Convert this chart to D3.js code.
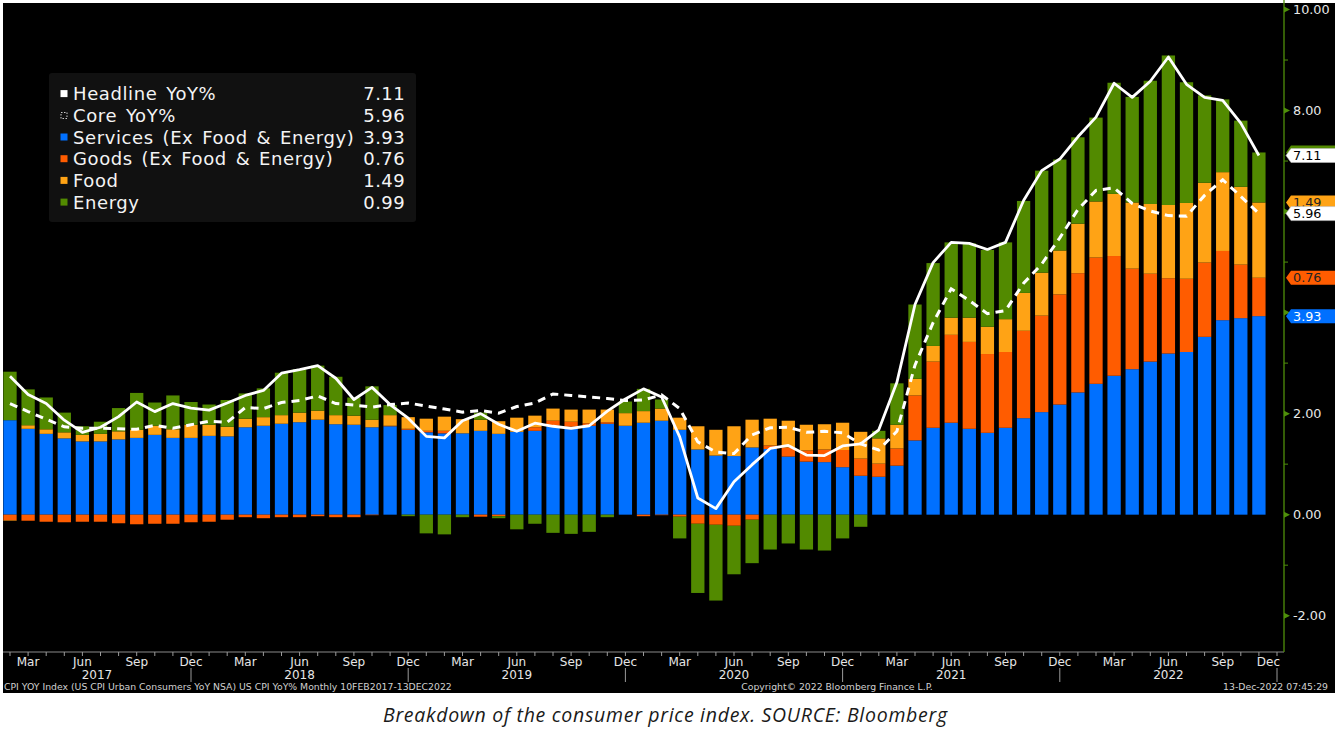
<!DOCTYPE html>
<html><head><meta charset="utf-8">
<script src="https://cdn.jsdelivr.net/npm/d3@7"></script>
<style>body{margin:0;background:#fff;overflow:hidden} svg{display:block}</style>
</head><body><svg id="c" width="1335" height="735"></svg>
<script>
// ---------- DATA ----------
const months = [
 "2017-02","2017-03","2017-04","2017-05","2017-06","2017-07","2017-08","2017-09","2017-10","2017-11","2017-12",
 "2018-01","2018-02","2018-03","2018-04","2018-05","2018-06","2018-07","2018-08","2018-09","2018-10","2018-11","2018-12",
 "2019-01","2019-02","2019-03","2019-04","2019-05","2019-06","2019-07","2019-08","2019-09","2019-10","2019-11","2019-12",
 "2020-01","2020-02","2020-03","2020-04","2020-05","2020-06","2020-07","2020-08","2020-09","2020-10","2020-11","2020-12",
 "2021-01","2021-02","2021-03","2021-04","2021-05","2021-06","2021-07","2021-08","2021-09","2021-10","2021-11","2021-12",
 "2022-01","2022-02","2022-03","2022-04","2022-05","2022-06","2022-07","2022-08","2022-09","2022-10","2022-11"
];
const services = [
 1.87,1.70,1.60,1.51,1.45,1.45,1.49,1.52,1.58,1.52,1.52,
 1.56,1.55,1.73,1.76,1.80,1.83,1.88,1.79,1.78,1.73,1.75,1.68,
 1.63,1.61,1.61,1.66,1.60,1.64,1.66,1.76,1.74,1.76,1.80,1.76,
 1.82,1.86,1.68,1.29,1.17,1.16,1.33,1.30,1.15,1.05,1.04,0.94,
 0.77,0.75,0.97,1.47,1.72,1.82,1.70,1.62,1.72,1.91,2.03,2.18,
 2.42,2.59,2.75,2.88,3.03,3.19,3.22,3.52,3.85,3.89,3.93
];
const goods = [
 -0.11,-0.12,-0.14,-0.15,-0.14,-0.14,-0.17,-0.19,-0.18,-0.18,-0.15,
 -0.14,-0.10,-0.05,-0.07,-0.05,-0.05,-0.03,-0.05,-0.05,-0.01,0.01,0.02,
 0.03,0.05,0.00,-0.04,-0.03,0.00,0.07,0.10,0.10,0.05,0.03,0.00,
 -0.03,-0.01,-0.04,-0.18,-0.20,-0.22,-0.10,0.07,0.18,0.22,0.25,0.34,
 0.34,0.26,0.34,0.89,1.31,1.74,1.72,1.56,1.50,1.73,1.91,2.18,
 2.36,2.50,2.37,1.99,1.74,1.49,1.45,1.47,1.37,1.06,0.76
];
const food = [
 -0.01,0.07,0.09,0.12,0.13,0.15,0.16,0.16,0.18,0.17,0.26,
 0.22,0.19,0.17,0.17,0.17,0.19,0.18,0.18,0.18,0.15,0.21,0.23,
 0.24,0.28,0.28,0.22,0.25,0.28,0.23,0.24,0.24,0.27,0.25,0.25,
 0.23,0.24,0.24,0.46,0.51,0.59,0.55,0.53,0.53,0.51,0.50,0.54,
 0.53,0.50,0.47,0.33,0.31,0.34,0.48,0.54,0.65,0.75,0.85,0.87,
 0.98,1.11,1.23,1.31,1.38,1.45,1.50,1.58,1.56,1.54,1.49
];
const energy = [
 0.96,0.71,0.63,0.39,0.17,0.24,0.46,0.73,0.46,0.67,0.45,
 0.40,0.53,0.50,0.57,0.84,0.86,0.89,0.76,0.36,0.66,0.20,-0.03,
 -0.37,-0.39,-0.05,0.14,-0.04,-0.29,-0.18,-0.36,-0.38,-0.34,-0.05,0.23,
 0.44,0.18,-0.43,-1.37,-1.50,-0.96,-0.86,-0.69,-0.57,-0.69,-0.71,-0.47,
 -0.24,0.15,0.82,1.47,1.64,1.49,1.47,1.52,1.52,1.82,2.02,1.80,
 1.71,1.66,2.20,2.09,2.44,2.96,2.39,1.73,1.44,1.31,0.99
];
const headline = [
 2.74,2.38,2.20,1.87,1.63,1.73,1.94,2.23,2.04,2.20,2.11,
 2.07,2.21,2.36,2.46,2.80,2.87,2.95,2.70,2.28,2.52,2.18,1.91,
 1.55,1.52,1.86,2.00,1.79,1.65,1.81,1.75,1.71,1.76,2.05,2.29,
 2.49,2.33,1.54,0.33,0.12,0.65,0.99,1.31,1.37,1.18,1.17,1.36,
 1.40,1.68,2.62,4.16,4.99,5.39,5.37,5.25,5.39,6.22,6.81,7.04,
 7.48,7.87,8.54,8.26,8.58,9.06,8.52,8.26,8.20,7.75,7.11
];
const core = [
 2.20,2.04,1.89,1.74,1.71,1.71,1.70,1.69,1.77,1.71,1.78,
 1.85,1.83,2.12,2.10,2.22,2.26,2.35,2.20,2.17,2.13,2.18,2.21,
 2.15,2.09,2.03,2.06,2.01,2.14,2.21,2.39,2.36,2.33,2.30,2.26,
 2.27,2.37,2.10,1.44,1.24,1.21,1.58,1.72,1.73,1.63,1.65,1.62,
 1.40,1.28,1.65,2.96,3.80,4.47,4.24,3.98,4.04,4.58,4.96,5.48,
 6.04,6.42,6.47,6.16,6.01,5.92,5.91,6.32,6.63,6.30,5.96
];
const seriesNames = ["Services (Ex Food & Energy)","Goods (Ex Food & Energy)","Food","Energy"];
const seriesKeys = ["services","goods","food","energy"];
const seriesColors = ["#0070ff","#ff5c00","#ffa315","#528a00"];
const monthTickLabels = {3:"Mar",6:"Jun",9:"Sep",12:"Dec"};
const yearLabels = ["2017","2018","2019","2020","2021","2022"];
const yTickValues = [-2,-1,0,1,2,3,4,5,6,7,8,9,10];
const footerLeft = "CPI YOY Index (US CPI Urban Consumers YoY NSA) US CPI YoY%  Monthly 10FEB2017-13DEC2022";
const footerMid = "Copyright\u00A9 2022 Bloomberg Finance L.P.";
const footerRight = "13-Dec-2022 07:45:29";
const caption = "Breakdown of the consumer price index. SOURCE: Bloomberg";

// ---------- LAYOUT ----------
const svg = d3.select("#c");
const W = 1335, H = 735;
const plotL = 3, plotR = 1284, plotT = 3, plotB = 652;
const step = 18.1;
const font = "'DejaVu Sans', Verdana, sans-serif";

svg.append("rect").attr("x",0).attr("y",0).attr("width",W).attr("height",H).attr("fill","#fff");
svg.append("rect").attr("x",3).attr("y",3).attr("width",W-3).attr("height",690).attr("fill","#000");

const x = d3.scaleBand().domain(months)
  .range([10 - step/2, 10 - step/2 + step*months.length])
  .paddingInner(0.265).paddingOuter(0.1325);
const xi = d3.scaleLinear().domain([0, months.length-1]).range([10, 10 + step*(months.length-1)]);
const y = d3.scaleLinear().domain([-2, 10]).range([615.7, 9.5]);

const rows = months.map((m,i)=>({m, services:services[i], goods:goods[i], food:food[i], energy:energy[i]}));
const stack = d3.stack().keys(seriesKeys).offset(d3.stackOffsetDiverging);
const stacked = stack(rows);

svg.append("clipPath").attr("id","pc").append("rect")
  .attr("x",plotL).attr("y",plotT).attr("width",plotR-plotL).attr("height",plotB-plotT);
const g = svg.append("g").attr("clip-path","url(#pc)");

// bars
stacked.forEach((s,k)=>{
  g.append("g").selectAll("rect").data(s).join("rect")
    .attr("x", d=>x(d.data.m))
    .attr("width", x.bandwidth())
    .attr("y", d=>y(Math.max(d[0],d[1])))
    .attr("height", d=>Math.abs(y(d[0])-y(d[1])))
    .attr("fill", seriesColors[k]);
});

// lines
const line = d3.line().x((d,i)=>xi(i)).y(d=>y(d));
g.append("path").datum(core).attr("d",line).attr("fill","none")
  .attr("stroke","#fff").attr("stroke-width",3).attr("stroke-dasharray","8,6");
g.append("path").datum(headline).attr("d",line).attr("fill","none")
  .attr("stroke","#fff").attr("stroke-width",2.8).attr("stroke-linejoin","round");

// x axis
svg.append("line").attr("x1",plotL).attr("x2",plotR).attr("y1",plotB).attr("y2",plotB)
  .attr("stroke","#8a8a8a").attr("stroke-width",1);
const axisMonths = months.concat(["2022-12"]);
axisMonths.forEach((m,i)=>{
  const px = xi(i);
  svg.append("line").attr("x1",px).attr("x2",px).attr("y1",plotB).attr("y2",plotB+4)
    .attr("stroke","#9a9a9a").attr("stroke-width",1);
  const mo = +m.slice(5,7);
  if (monthTickLabels[mo]) {
    const t = svg.append("text").attr("y",666).attr("fill","#e6e6e6")
      .attr("font-family",font).attr("font-size",12).text(monthTickLabels[mo]);
    if (px + 11 > plotR - 2) t.attr("x",plotR - 4).attr("text-anchor","end");
    else t.attr("x",px).attr("text-anchor","middle");
  }
  if (mo === 12) {
    svg.append("line").attr("x1",px).attr("x2",px).attr("y1",668).attr("y2",682)
      .attr("stroke","#9a9a9a").attr("stroke-width",1);
  }
});
// year labels
const decIdx = axisMonths.map((m,i)=>m.endsWith("-12")?i:-1).filter(i=>i>=0);
yearLabels.forEach((yr,k)=>{
  const x1 = k===0 ? plotL : xi(decIdx[k-1]);
  const x2 = xi(decIdx[k]);
  svg.append("text").attr("x",(x1+x2)/2).attr("y",679).attr("text-anchor","middle")
    .attr("fill","#e6e6e6").attr("font-family",font).attr("font-size",12).text(yr);
});

// y axis (right)
const green = "#4f8f0a";
svg.append("line").attr("x1",plotR).attr("x2",plotR).attr("y1",0).attr("y2",plotB)
  .attr("stroke",green).attr("stroke-width",1.3);

// badges (last values)
const last = months.length-1;
const tops = stacked.map(s=>s[last][1]);
const badges = [
  {v:tops[3], fill:seriesColors[3], tc:"#111", label:null},
  {v:tops[2], fill:seriesColors[2], tc:"#222", label:food[last].toFixed(2)},
  {v:tops[1], fill:seriesColors[1], tc:"#222", label:goods[last].toFixed(2)},
  {v:tops[0], fill:seriesColors[0], tc:"#fff", label:services[last].toFixed(2)},
  {v:core[last], fill:"#fff", tc:"#000", label:core[last].toFixed(2)},
  {v:headline[last], fill:"#fff", tc:"#000", label:headline[last].toFixed(2)}
];

yTickValues.forEach(v=>{
  const py = y(v);
  if (v % 2 === 0) {
    svg.append("path").attr("d",`M${plotR},${py-3}L${plotR+6},${py}L${plotR},${py+3}Z`).attr("fill",green);
    const hidden = badges.some(b=>Math.abs(y(b.v)-py) < 10);
    if (!hidden) svg.append("text").attr("x",plotR+9).attr("y",py+4.5)
      .attr("fill","#e8e8e8").attr("font-family",font).attr("font-size",12.8).text(v.toFixed(2));
  } else {
    svg.append("line").attr("x1",plotR).attr("x2",plotR+4).attr("y1",py).attr("y2",py)
      .attr("stroke",green).attr("stroke-width",1);
  }
});

badges.forEach(b=>{
  const py = y(b.v);
  const gb = svg.append("g");
  gb.append("path").attr("d",`M${plotR+2},${py}L${plotR+7},${py-7}L${W+2},${py-7}L${W+2},${py+7}L${plotR+7},${py+7}Z`)
    .attr("fill",b.fill).attr("stroke", b.fill==="#fff" ? "#bbb" : "none").attr("stroke-width",0.6);
  if (b.label) gb.append("text").attr("x",plotR+9).attr("y",py+4.5).attr("fill",b.tc)
    .attr("font-family",font).attr("font-size",12.8).text(b.label);
});

// legend
svg.append("rect").attr("x",49).attr("y",73).attr("width",367).attr("height",149).attr("rx",3).attr("fill","#111");
const legendItems = [
  {name:"Headline YoY%", color:"#fff", val:headline[last], dotted:false},
  {name:"Core YoY%", color:"#fff", val:core[last], dotted:true},
  {name:seriesNames[0], color:seriesColors[0], val:services[last]},
  {name:seriesNames[1], color:seriesColors[1], val:goods[last]},
  {name:seriesNames[2], color:seriesColors[2], val:food[last]},
  {name:seriesNames[3], color:seriesColors[3], val:energy[last]}
];
legendItems.forEach((it,k)=>{
  const cy = 93.8 + 21.7*k;
  if (it.dotted) {
    svg.append("rect").attr("x",61).attr("y",cy-3).attr("width",6).attr("height",6)
      .attr("fill","none").attr("stroke","#ccc").attr("stroke-width",1).attr("stroke-dasharray","1.5,1.5");
  } else {
    svg.append("rect").attr("x",60.5).attr("y",cy-3.7).attr("width",7).attr("height",7).attr("fill",it.color);
  }
  svg.append("text").attr("x",73).attr("y",cy+6.4).attr("fill","#f4f4f4")
    .attr("font-family",font).attr("font-size",18).attr("letter-spacing",0.6).attr("word-spacing",2.5)
    .text(it.name);
  svg.append("text").attr("x",405).attr("y",cy+6.4).attr("text-anchor","end").attr("fill","#f4f4f4")
    .attr("font-family",font).attr("font-size",18).attr("letter-spacing",0.4).text(it.val.toFixed(2));
});

// footer
svg.append("text").attr("x",4).attr("y",690).attr("fill","#d0d0d0").attr("font-family",font)
  .attr("font-size",9.3).text(footerLeft);
svg.append("text").attr("x",837).attr("y",690).attr("text-anchor","middle").attr("fill","#d0d0d0")
  .attr("font-family",font).attr("font-size",9.3).text(footerMid);
svg.append("text").attr("x",1328).attr("y",690).attr("text-anchor","end").attr("fill","#d0d0d0")
  .attr("font-family",font).attr("font-size",9.3).text(footerRight);

// caption
svg.append("text").attr("x",665).attr("y",722).attr("text-anchor","middle").attr("fill","#1a1a1a")
  .attr("font-family","'Open Sans', 'Noto Sans', sans-serif").attr("font-style","italic")
  .attr("font-size",19.5).attr("textLength",564).attr("lengthAdjust","spacing").text(caption);
</script></body></html>
